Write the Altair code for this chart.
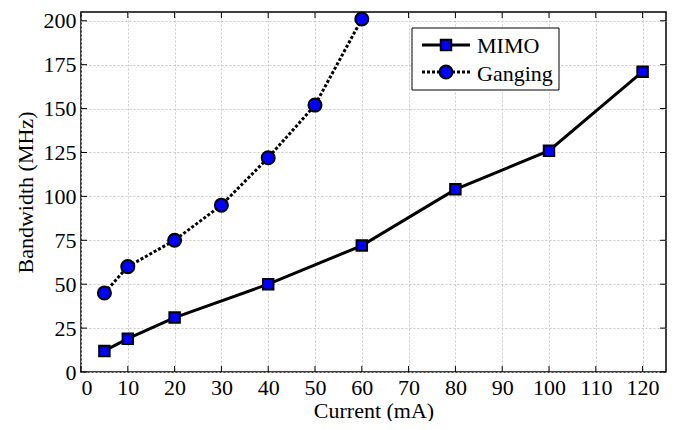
import altair as alt
import pandas as pd

mimo_x = [5, 10, 20, 40, 60, 80, 100, 120]
mimo_y = [12, 19, 31, 50, 72, 104, 126, 171]
gang_x = [5, 10, 20, 30, 40, 50, 60]
gang_y = [45, 60, 75, 95, 122, 152, 201]
x_ticks = list(range(0, 121, 10))
y_ticks = list(range(0, 201, 25))

W, H = 585, 360
FONT = "Liberation Serif"

mimo = pd.DataFrame({"x": mimo_x, "y": mimo_y})
gang = pd.DataFrame({"x": gang_x, "y": gang_y})

xs = alt.Scale(domain=[0, 125], nice=False, zero=False)
ys = alt.Scale(domain=[0, 205], nice=False, zero=False)

xax = alt.Axis(values=x_ticks, title="Current (mA)", titlePadding=2)
yax = alt.Axis(values=y_ticks, title="Bandwidth (MHz)", titlePadding=6)

X = alt.X("x:Q", scale=xs, axis=xax)
Y = alt.Y("y:Q", scale=ys, axis=yax)

mimo_line = alt.Chart(mimo).mark_line(color="black", strokeWidth=3).encode(x=X, y=Y)
mimo_pts = alt.Chart(mimo).mark_point(shape="square", filled=True, fill="#0000ff", stroke="black",
                                      strokeWidth=2, size=110, opacity=1).encode(x=X, y=Y)
gang_line = alt.Chart(gang).mark_line(color="black", strokeWidth=3, strokeDash=[3, 2]).encode(x=X, y=Y)
gang_pts = alt.Chart(gang).mark_point(shape="circle", filled=True, fill="#0000ff", stroke="black",
                                      strokeWidth=2, size=170, opacity=1).encode(x=X, y=Y)

# inward ticks
xt = pd.DataFrame({"x": x_ticks})
yt = pd.DataFrame({"y": y_ticks})
xt_bot = alt.Chart(xt).mark_rule(color="black", strokeWidth=1).encode(x=X, y=alt.value(H), y2=alt.value(H - 6))
xt_top = alt.Chart(xt).mark_rule(color="black", strokeWidth=1).encode(x=X, y=alt.value(0), y2=alt.value(6))
yt_l = alt.Chart(yt).mark_rule(color="black", strokeWidth=1).encode(y=Y, x=alt.value(0), x2=alt.value(6))
yt_r = alt.Chart(yt).mark_rule(color="black", strokeWidth=1).encode(y=Y, x=alt.value(W), x2=alt.value(W - 6))

# legend
one = pd.DataFrame({"a": [0]})
lx0, lx1, ly0, ly1 = 331, 478, 16, 78
leg_box = alt.Chart(one).mark_rect(fill="white", stroke="black", strokeWidth=1).encode(
    x=alt.value(lx0), x2=alt.value(lx1), y=alt.value(ly0), y2=alt.value(ly1))
leg_l1 = alt.Chart(one).mark_rule(color="black", strokeWidth=3).encode(
    x=alt.value(341), x2=alt.value(389), y=alt.value(33))
leg_l2 = alt.Chart(one).mark_rule(color="black", strokeWidth=3, strokeDash=[3, 2]).encode(
    x=alt.value(341), x2=alt.value(389), y=alt.value(60))
leg_p1 = alt.Chart(one).mark_point(shape="square", filled=True, fill="#0000ff", stroke="black",
                                   strokeWidth=2, size=110, opacity=1).encode(x=alt.value(365), y=alt.value(33))
leg_p2 = alt.Chart(one).mark_point(shape="circle", filled=True, fill="#0000ff", stroke="black",
                                   strokeWidth=2, size=170, opacity=1).encode(x=alt.value(365), y=alt.value(60))
leg_t1 = alt.Chart(pd.DataFrame({"t": ["MIMO"]})).mark_text(align="left", baseline="middle", font=FONT,
                                                           fontSize=22, color="black").encode(
    x=alt.value(396), y=alt.value(34), text="t:N")
leg_t2 = alt.Chart(pd.DataFrame({"t": ["Ganging"]})).mark_text(align="left", baseline="middle", font=FONT,
                                                              fontSize=22, color="black").encode(
    x=alt.value(396), y=alt.value(62), text="t:N")

chart = alt.layer(
    xt_bot, xt_top, yt_l, yt_r,
    mimo_line, gang_line, mimo_pts, gang_pts,
    leg_box, leg_l1, leg_l2, leg_p1, leg_p2, leg_t1, leg_t2,
).properties(
    width=W, height=H, background="white",
    padding={"left": 6, "top": 0, "right": 5, "bottom": 0},
).configure_view(
    stroke="black", strokeWidth=1.5
).configure_axis(
    grid=True, gridDash=[2, 2], gridColor="#c8c8c8", ticks=False, domain=False, labelPadding=5,
    labelFontSize=22, titleFontSize=22, labelFont=FONT, titleFont=FONT,
    titleFontWeight="normal", labelColor="black", titleColor="black"
)

chart.save("out.html", embed_options={"renderer": "svg", "actions": False})
